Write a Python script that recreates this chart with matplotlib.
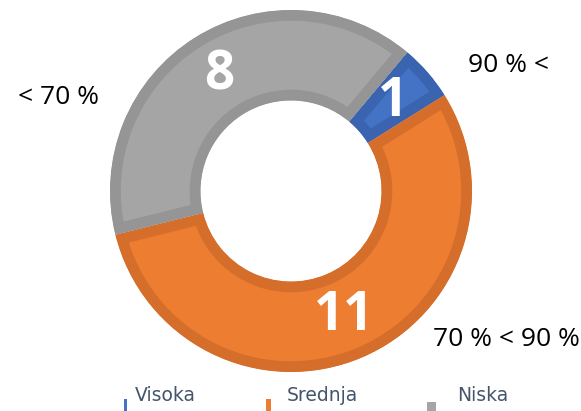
import matplotlib
matplotlib.use("Agg")
import matplotlib.pyplot as plt
from matplotlib.patches import Rectangle

# data
categories = ["Visoka", "Srednja", "Niska"]
values = [1, 11, 8]
range_labels = ["90 % <", "70 % < 90 %", "< 70 %"]
colors = ["#4472C4", "#ED7D31", "#A5A5A5"]
edge_colors = ["#3A64B0", "#D46E2A", "#959595"]

W, H = 581, 411
fig = plt.figure(figsize=(W / 100, H / 100), dpi=100)
ax = fig.add_axes([0, 0, 1, 1])

cx, cy, r = 291, 220, 181
wedges, texts = ax.pie(values, colors=colors, startangle=50, counterclock=False,
                       center=(cx, cy), radius=r, labels=[str(v) for v in values],
                       labeldistance=0.75, frame=True,
                       wedgeprops=dict(width=r * 0.5, linewidth=0))
ax.set_xlim(0, W)
ax.set_ylim(0, H)
ax.set_aspect("equal")
ax.axis("off")

# darker border drawn inside each wedge only
for w, ec in zip(wedges, edge_colors):
    w.set_edgecolor(ec)
    w.set_linewidth(15.5)
    w.set_clip_path(w)
    w.set_clip_on(True)

for t in texts:
    t.set_color("white")
    t.set_fontsize(38)
    t.set_fontweight("bold")
    t.set_fontfamily("Open Sans")
    t.set_ha("center")
    t.set_va("center")

# range labels beside the ring
label_pos = [(508, 346), (506, 71), (58, 313)]
for txt, (x, y) in zip(range_labels, label_pos):
    ax.text(x, y, txt, fontsize=19, ha="center", va="center",
            color="black", fontfamily="Open Sans")

# legend row at the bottom (partly cut in the original)
leg_text_x = [135, 287, 457]
leg_mark = [(124, 3, 12), (266, 5, 12), (427, 9, 9)]
for name, c, tx, (mx, mw, mh) in zip(categories, colors, leg_text_x, leg_mark):
    ax.text(tx, 16, name, fontsize=13.5, color="#44546A", ha="left", va="center",
            fontfamily="DejaVu Sans")
    ax.add_patch(Rectangle((mx, 0), mw, mh, facecolor=c, edgecolor="none"))

fig.savefig("out.png", dpi=100)
